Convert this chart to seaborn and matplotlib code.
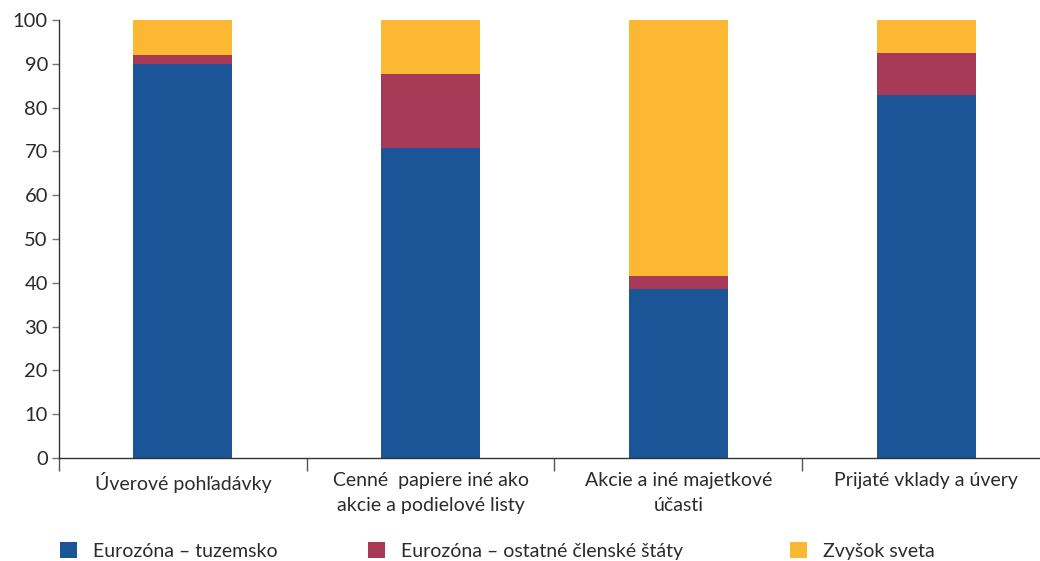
import matplotlib
matplotlib.use("Agg")
import matplotlib.pyplot as plt
import seaborn as sns
import pandas as pd
import numpy as np
from matplotlib.patches import Patch

categories = ["Úverové pohľadávky",
              "Cenné  papiere iné ako\nakcie a podielové listy",
              "Akcie a iné majetkové\núčasti",
              "Prijaté vklady a úvery"]
series_names = ["Eurozóna – tuzemsko", "Eurozóna – ostatné členské štáty", "Zvyšok sveta"]
domestic = [90.0, 70.8, 38.6, 82.9]
other_ez = [2.0, 16.9, 3.0, 9.6]
rest_world = [8.0, 12.3, 58.4, 7.5]
colors = ["#1B5598", "#A63A57", "#FCB832"]

sns.set_style("white")
plt.rcParams["font.family"] = ["Lato", "DejaVu Sans"]
text_color = "#2b2b2b"

df = pd.DataFrame({"cat": categories, "d": domestic, "o": other_ez, "r": rest_world})
df["c1"] = df["d"]
df["c2"] = df["d"] + df["o"]
df["c3"] = df["c2"] + df["r"]

fig = plt.figure(figsize=(10.4, 5.61), dpi=100)
ax = fig.add_axes([59 / 1040, 1 - 458 / 561, 1 - 59 / 1040, (458 - 20) / 561])

# stacked: draw cumulative totals from top down
for col, c in zip(["c3", "c2", "c1"], colors[::-1]):
    sns.barplot(data=df, x="cat", y=col, color=c, width=0.4, ax=ax,
                saturation=1, linewidth=0)

ax.set_xlim(-0.5, 3.46)
ax.set_ylim(0, 100)
ax.set_yticks(np.arange(0, 101, 10))
ax.set_xlabel("")
ax.set_ylabel("")

for s in ["top", "right"]:
    ax.spines[s].set_visible(False)
for s in ["left", "bottom"]:
    ax.spines[s].set_color("#333333")
    ax.spines[s].set_linewidth(1.0)

ax.tick_params(axis="y", left=True, length=5, width=1, color="#777777",
               labelsize=14.5, labelcolor=text_color, pad=3)
ax.tick_params(axis="x", which="major", length=0, labelsize=14,
               labelcolor=text_color, pad=10)
ax.set_xticks([-0.5, 0.5, 1.5, 2.5], minor=True)
ax.tick_params(axis="x", which="minor", bottom=True, length=9, width=1, color="#555555")
for lab in ax.get_xticklabels():
    lab.set_linespacing(1.55)

# legend entries placed one by one
leg_x = [60, 368, 790]
for name, c, x in zip(series_names, colors, leg_x):
    lg = fig.legend([Patch(facecolor=c, edgecolor="none")], [name], loc="center left",
                    bbox_to_anchor=(x / 1040, 1 - 551 / 561), frameon=False, fontsize=14,
                    handlelength=0.85, handleheight=0.85, handletextpad=0.85,
                    borderpad=0, borderaxespad=0, labelcolor=text_color)

fig.savefig("out.png", dpi=100)
